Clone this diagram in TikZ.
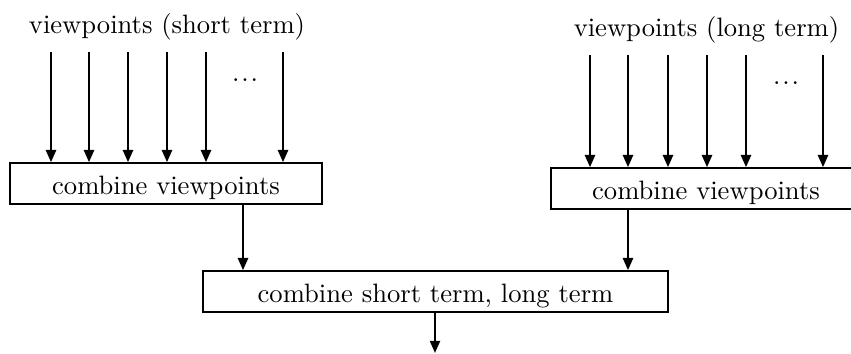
\documentclass[tikz,border=0pt]{standalone}
\usetikzlibrary{arrows.meta}
\begin{document}
\begin{tikzpicture}[x=0.376pt,y=-0.376pt,
  line width=0.8pt,
  arr/.style={-{Triangle[length=4.6pt,width=3.8pt]}},
  combbox/.style={draw,rectangle,inner xsep=0pt,inner ysep=0pt,
    text height=11.6pt,text depth=3.6pt},
  lbl/.style={anchor=base,inner sep=0pt},
  dotsnode/.style={inner sep=0pt}]
\useasboundingbox (0,0) rectangle (851,354);

% ---- short-term branch ----
\node[lbl] (lt) at (167,33) {viewpoints (short term)};
\node[combbox,minimum width=312*0.376pt] (L) at (166,183.5) {combine viewpoints};
\foreach \x [count=\i] in {51,89,128,167,206,283}
  \coordinate (ls\i) at (\x,52);
\foreach \i in {1,...,6}
  \draw[arr] (ls\i) -- (ls\i |- L.north);
\node[dotsnode] (ldots) at (245,80) {.\kern0.7pt.\kern0.7pt.};

% ---- long-term branch ----
\node[lbl] (rt) at (706.5,36) {viewpoints (long term)};
\node[combbox,minimum width=310*0.376pt] (R) at (706,188.5) {combine viewpoints};
\foreach \x [count=\i] in {590,628,668,707,746,823}
  \coordinate (rs\i) at (\x,55);
\foreach \i in {1,...,6}
  \draw[arr] (rs\i) -- (rs\i |- R.north);
\node[dotsnode] (rdots) at (786,83) {.\kern0.7pt.\kern0.7pt.};

% ---- combination ----
\node[combbox,minimum width=465*0.376pt] (B) at (435.5,291.5) {combine short term, long term};
\coordinate (lc) at (243,0);
\coordinate (rc) at (628,0);
\coordinate (out) at (435,353);
\draw[arr] (lc |- L.south) -- (lc |- B.north);
\draw[arr] (rc |- R.south) -- (rc |- B.north);
\draw[arr] (out |- B.south) -- (out);
\end{tikzpicture}
\end{document}
